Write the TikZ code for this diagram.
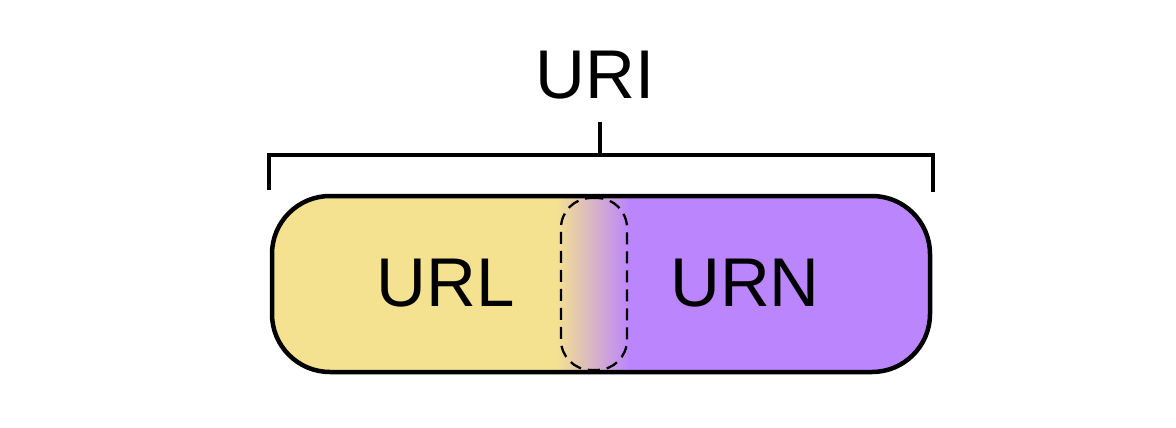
\documentclass[tikz,border=0pt]{standalone}
\usepackage{fontspec}
\setmainfont{Liberation Sans}
\definecolor{yel}{HTML}{F4E290}
\definecolor{pur}{HTML}{BB85FD}
\begin{document}
\begin{tikzpicture}[x=1pt,y=-1pt,
  lbl/.style={inner sep=0pt, font=\fontsize{69}{69}\selectfont},
  brk/.style={line width=4pt, line cap=butt}]
\useasboundingbox (0,0) rectangle (1176,428);
\begin{scope}
\clip[rounded corners=58pt] (272,196) rectangle (930,372);
\fill[yel] (272,196) rectangle (558,372);
\shade[left color=yel, right color=pur] (556,196) rectangle (630,372);
\fill[pur] (628,196) rectangle (930,372);
\end{scope}
\node[draw, line width=4.5pt, rounded corners=58pt, minimum width=658pt, minimum height=176pt, inner sep=0pt] (pill) at (601,284) {};
\node[draw, dash pattern=on 12pt off 7pt, line width=2.3pt, rounded corners=30pt, minimum width=66pt, minimum height=172pt, inner sep=0pt] (overlap) at (594,284) {};
\node[lbl] (uri) at (595,75) {URI};
\node[lbl] (url) at (446,283) {URL};
\node[lbl] (urn) at (745,283) {URN};
\coordinate (bl) at (269,190);
\coordinate (br) at (933,192);
\coordinate (bm) at (600,155);
\coordinate (bt) at (600,122);
\draw[brk] (bl) -- (bl |- bm) -- (br |- bm) -- (br);
\draw[brk] (bm) -- (bt);
\end{tikzpicture}
\end{document}
